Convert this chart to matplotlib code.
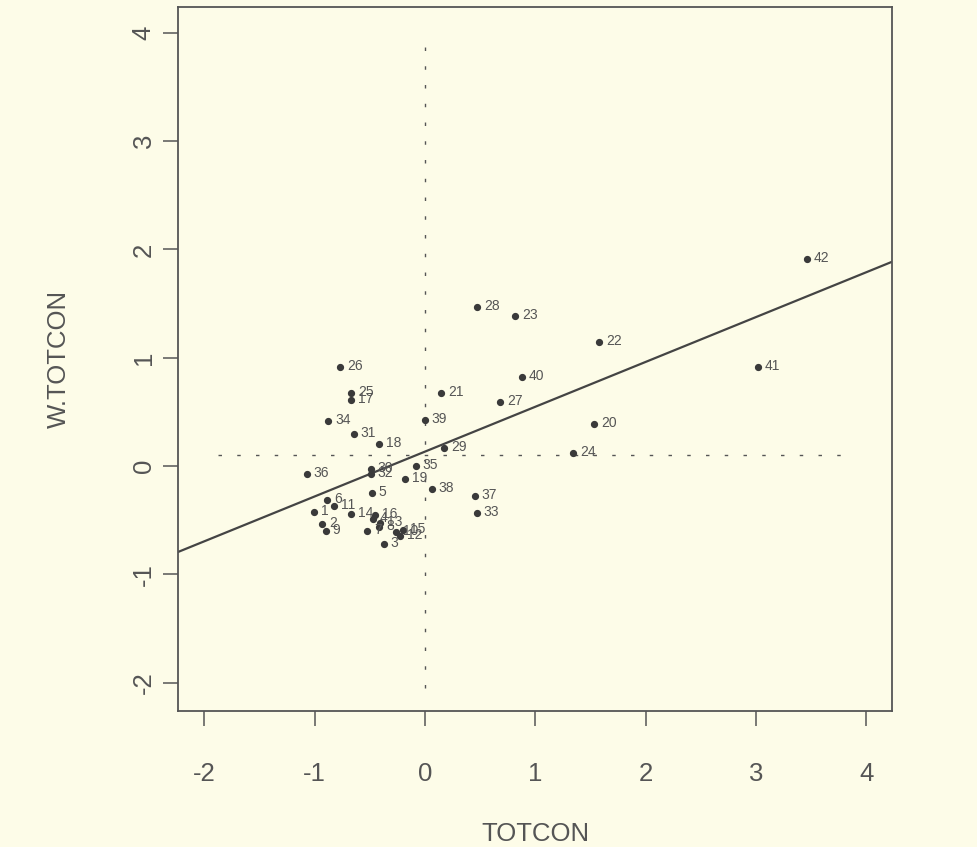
import matplotlib.pyplot as plt
import numpy as np

plt.rcParams['font.family'] = ['Liberation Sans', 'DejaVu Sans']

# Moran scatterplot: TOTCON vs spatially lagged W.TOTCON
region_ids = list(range(1, 43))
totcon = [-1.006, -0.934, -0.372, -0.471, -0.481, -0.888, -0.526, -0.417, -0.898, -0.263,
          -0.825, -0.227, -0.408, -0.671, -0.199, -0.453, -0.671, -0.417, -0.181, 1.532,
          0.145, 1.578, 0.816, 1.342, -0.671, -0.771, 0.680, 0.471, 0.172, -0.490,
          -0.644, -0.490, 0.471, -0.879, -0.082, -1.070, 0.453, 0.063, 0.000, 0.879,
          3.019, 3.463]
w_totcon = [-0.425, -0.536, -0.720, -0.489, -0.249, -0.314, -0.600, -0.563, -0.600, -0.609,
            -0.369, -0.646, -0.526, -0.443, -0.591, -0.452, 0.609, 0.203, -0.120, 0.388,
            0.674, 1.145, 1.385, 0.120, 0.674, 0.914, 0.591, 1.468, 0.166, -0.028,
            0.295, -0.074, -0.434, 0.416, 0.000, -0.074, -0.277, -0.212, 0.425, 0.822,
            0.914, 1.911]

# regression line
slope = 0.414
intercept = 0.133
# reference lines (means)
mean_x = 0.0
mean_y = 0.105
hline_span = [-1.88, 3.87]
vline_span = [-2.05, 3.89]

xticks = [-2, -1, 0, 1, 2, 3, 4]
yticks = [-2, -1, 0, 1, 2, 3, 4]

bg = '#fdfce8'
ink = '#3a3a3a'
grey = '#555555'

fig = plt.figure(figsize=(9.78, 8.47), dpi=100, facecolor=bg)
ax = fig.add_axes([0.182, 0.1606, 0.730, 0.831], facecolor=bg)

ax.plot(totcon, w_totcon, 'o', color=ink, markersize=4.2, zorder=3)
for i, xv, yv in zip(region_ids, totcon, w_totcon):
    ax.annotate(str(i), (xv, yv), xytext=(5, 0.5), textcoords='offset points',
                fontsize=10, color=grey, va='center', ha='left')

ax.axline((0, intercept), slope=slope, color='#444444', lw=1.6, zorder=2)
ax.plot(hline_span, [mean_y, mean_y], color=grey, lw=1.0, dashes=(2.5, 11))
ax.plot([mean_x, mean_x], vline_span, color=grey, lw=1.0, dashes=(2.5, 11))

ax.set_xlim(-2.239, 4.234)
ax.set_ylim(-2.262, 4.238)
ax.set_xticks(xticks)
ax.set_yticks(yticks)
ax.set_xticklabels([str(t) for t in xticks])
ax.set_yticklabels([str(t) for t in yticks], rotation=90, va='center')
ax.tick_params(length=11, width=1.1, color=grey, labelcolor=grey, labelsize=18.5)
ax.tick_params(axis='x', pad=26)
ax.tick_params(axis='y', pad=5)
for s in ax.spines.values():
    s.set_color('#555555')
    s.set_linewidth(1.3)

ax.set_xlabel('TOTCON', fontsize=18.5, color=grey, labelpad=26)
ax.set_ylabel('W.TOTCON', fontsize=18.5, color=grey, labelpad=44)

plt.savefig('out.png', dpi=100, facecolor=bg)
